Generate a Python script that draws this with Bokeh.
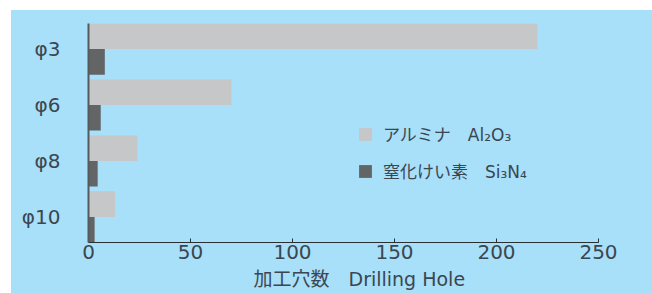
from bokeh.plotting import figure
from bokeh.models import Range1d, FixedTicker, Legend, LegendItem, Title, ColumnDataSource, Spacer
from bokeh.layouts import column, row
from bokeh.transform import dodge
from bokeh.embed import file_html
from bokeh.resources import INLINE

categories = ["φ3", "φ6", "φ8", "φ10"]
alumina = [220, 70, 24, 13]
si3n4 = [8, 6, 4.5, 3]
x_ticks = [0, 50, 100, 150, 200, 250]
series_names = ["アルミナ\u3000Al₂O₃", "窒化けい素\u3000Si₃N₄"]
x_title = "加工穴数\u3000Drilling Hole"

BG = "#a8dff9"
LIGHT = "#c6c7c9"
DARK = "#636466"
TXT = "#3b4650"
FONT = "DejaVu Sans ExtraLight, DejaVu Sans, Noto Sans CJK JP"

n = len(categories)
ypos = [n - 1 - i for i in range(n)]
src = ColumnDataSource(dict(y=ypos, a=alumina, s=si3n4))

p = figure(width=641, height=283, output_backend="svg", toolbar_location=None,
           x_range=Range1d(0, 250), y_range=Range1d(-0.457, n - 1 + 0.457),
           min_border_left=77, min_border_right=54, min_border_top=13, min_border_bottom=50)
p.styles = {"background-color": BG}
p.background_fill_alpha = 0
p.border_fill_alpha = 0
p.outline_line_color = None
p.grid.grid_line_color = None

bh = 0.457
r1 = p.hbar(y=dodge("y", bh / 2, range=p.y_range), right="a", left=0, height=bh,
            source=src, fill_color=LIGHT, line_color=None)
r2 = p.hbar(y=dodge("y", -bh / 2, range=p.y_range), right="s", left=0, height=bh,
            source=src, fill_color=DARK, line_color=None)

xa = p.xaxis[0]
xa.ticker = FixedTicker(ticks=x_ticks)
xa.major_tick_in = 4
xa.major_tick_out = 0
xa.minor_tick_line_color = None
xa.axis_line_color = "#2a2f33"
xa.axis_line_width = 1.2
xa.major_tick_line_color = "#2a2f33"
xa.major_label_text_font = FONT
xa.major_label_text_font_size = "20px"
xa.major_label_text_color = TXT
xa.major_label_standoff = 2

ya = p.yaxis[0]
ya.ticker = FixedTicker(ticks=ypos)
ya.major_label_overrides = {y: c for y, c in zip(ypos, categories)}
ya.major_tick_line_color = None
ya.minor_tick_line_color = None
ya.axis_line_color = "#555a5e"
ya.axis_line_width = 2
ya.major_label_text_font = FONT
ya.major_label_text_font_size = "20px"
ya.major_label_text_color = TXT
ya.major_label_standoff = 22

legend = Legend(items=[LegendItem(label=series_names[0], renderers=[r1]),
                       LegendItem(label=series_names[1], renderers=[r2])],
                location=(269, 59), orientation="vertical")
legend.background_fill_alpha = 0
legend.border_line_color = None
legend.padding = 0
legend.margin = 0
legend.spacing = 12
legend.glyph_width = 16
legend.glyph_height = 16
legend.label_height = 16
legend.label_standoff = 10
legend.label_text_font = FONT
legend.label_text_font_size = "17px"
legend.label_text_color = TXT
p.add_layout(legend, "center")

title = Title(text=x_title, align="left", offset=165, standoff=8,
              text_font=FONT, text_font_size="19px", text_font_style="normal",
              text_color=TXT)
p.add_layout(title, "below")

layout = column(Spacer(width=652, height=10), row(Spacer(width=11, height=283), p))
open("out.html", "w").write(file_html(layout, INLINE))
